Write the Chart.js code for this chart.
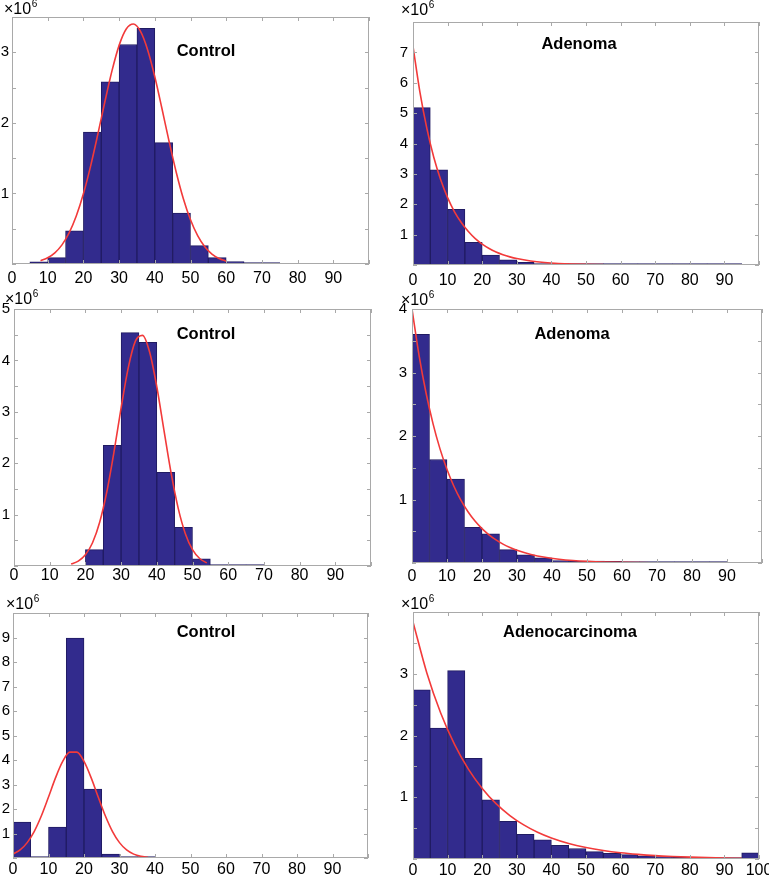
<!DOCTYPE html>
<html><head><meta charset="utf-8">
<script src="https://cdn.jsdelivr.net/npm/chart.js@4.4.1/dist/chart.umd.min.js"></script>
<style>
html,body{margin:0;padding:0;background:#fff;overflow:hidden;width:769px;height:875px;position:relative;}
canvas{position:absolute;}
</style></head><body>
<script>
// ---------- DATA (values in units of 10^6) ----------
const binEdges = [0,5,10,15,20,25,30,35,40,45,50,55,60,65,70,75,80,85,90,95,100];
const xTickLabels = [0,10,20,30,40,50,60,70,80,90];
const xTickLabelsLast = [0,10,20,30,40,50,60,70,80,90,100];
const scaleLabel = "×10";
const scaleExp = "6";

const p1Title = "Control";
const p1Counts = [null,0.03,0.09,0.47,1.87,2.58,3.11,3.34,1.72,0.72,0.26,0.09,0.035,0.015,0.01,null,null,null,null,null];
const p1FitX = [8,10,12,14,16,18,20,22,24,26,28,30,32,34,36,38,40,42,44,46,48,50,52,54,56,58,60];
const p1FitY = [0.046,0.088,0.158,0.271,0.44,0.679,0.995,1.384,1.829,2.295,2.736,3.098,3.33,3.40,3.295,3.033,2.653,2.203,1.737,1.301,0.925,0.626,0.401,0.244,0.141,0.078,0.040];
const p1YLabels = [1,2,3];

const p2Title = "Adenoma";
const p2Counts = [5.18,3.13,1.83,0.75,0.33,0.17,0.09,0.05,0.03,0.02,0.015,0.01,0.01,0.008,0.006,0.005,0.004,0.003,0.002,null];
const p2FitX = [0,2,4,6,8,10,12,14,16,18,20,22,24,26,28,30,34,38,42,46,50,55];
const p2FitY = [7.2,5.69,4.50,3.55,2.81,2.22,1.75,1.39,1.10,0.866,0.685,0.541,0.428,0.338,0.267,0.211,0.132,0.082,0.051,0.032,0.020,0.011];
const p2YLabels = [1,2,3,4,5,6,7];

const p3Title = "Control";
const p3Counts = [null,null,null,null,0.32,2.35,4.54,4.35,1.82,0.75,0.14,0.03,0.02,0.01,null,null,null,null,null,null];
const p3FitX = [16,18,20,22,24,26,28,30,32,34,36,38,40,42,44,46,48,50,52,54];
const p3FitY = [0.037,0.095,0.218,0.453,0.850,1.444,2.215,3.074,3.856,4.374,4.486,4.159,3.487,2.643,1.811,1.122,0.629,0.318,0.146,0.060];
const p3YLabels = [1,2,3,4,5];

const p4Title = "Adenoma";
const p4Counts = [3.6,1.63,1.32,0.56,0.46,0.21,0.13,0.08,0.04,0.03,0.03,0.025,0.02,0.01,0.01,0.01,0.008,0.005,null,null];
const p4FitX = [0,2,4,6,8,10,12,14,16,18,20,22,24,26,28,30,34,38,42,46,50,55,60,65,70];
const p4FitY = [4,3.275,2.681,2.195,1.797,1.472,1.205,0.986,0.808,0.661,0.541,0.443,0.363,0.297,0.243,0.199,0.134,0.0895,0.060,0.040,0.027,0.016,0.010,0.006,0.004];
const p4YLabels = [1,2,3,4];

const p5Title = "Control";
const p5Counts = [1.47,0.02,1.26,8.98,2.81,0.16,0.03,0.01,null,null,null,null,null,null,null,null,null,null,null,null];
const p5FitX = [0,2,4,6,8,10,12,14,16,18,20,22,24,26,28,30,32,34,36,38];
const p5FitY = [0.159,0.330,0.628,1.09,1.724,2.49,3.28,3.94,4.32,4.32,3.94,3.28,2.49,1.724,1.09,0.628,0.330,0.159,0.069,0.028];
const p5YLabels = [1,2,3,4,5,6,7,8,9];

const p6Title = "Adenocarcinoma";
const p6Counts = [2.74,2.12,3.05,1.63,0.96,0.61,0.40,0.31,0.22,0.17,0.12,0.09,0.07,0.05,0.04,0.03,0.02,0.015,0.01,0.10];
const p6FitX = [0,4,8,12,16,20,24,28,32,36,40,45,50,55,60,65,70,75,80,85,90,95];
const p6FitY = [3.84,3.013,2.365,1.856,1.456,1.143,0.897,0.704,0.552,0.433,0.340,0.251,0.186,0.137,0.101,0.075,0.055,0.041,0.030,0.022,0.016,0.012];
const p6YLabels = [1,2,3];

// ---------- LAYOUT / STYLE ----------
const FONT = "'Liberation Sans', Arial, Helvetica, sans-serif";
Chart.defaults.font.family = FONT;
const M = 40;
const panels = [
  {title:p1Title, counts:p1Counts, fx:p1FitX, fy:p1FitY, yLabels:p1YLabels, xLabels:xTickLabels, ymax:3.5, ystep:0.5, box:[12,17,369,264], xPad:5, yPad:3, titleDX:194, titleDY:34, expDX:-8, expDY:-3.5},
  {title:p2Title, counts:p2Counts, fx:p2FitX, fy:p2FitY, yLabels:p2YLabels, xLabels:xTickLabels, ymax:8, ystep:1, box:[413,22,759,265], xPad:6, yPad:5, titleDX:166, titleDY:22, expDX:-12, expDY:-7},
  {title:p3Title, counts:p3Counts, fx:p3FitX, fy:p3FitY, yLabels:p3YLabels, xLabels:xTickLabels, ymax:5, ystep:0.5, box:[14,309,371,566], xPad:0, yPad:4, titleDX:192, titleDY:25, expDX:-9, expDY:-5},
  {title:p4Title, counts:p4Counts, fx:p4FitX, fy:p4FitY, yLabels:p4YLabels, xLabels:xTickLabels, ymax:4, ystep:0.5, box:[412,309,762,563], xPad:4, yPad:5, titleDX:160, titleDY:25, expDX:-11, expDY:-4},
  {title:p5Title, counts:p5Counts, fx:p5FitX, fy:p5FitY, yLabels:p5YLabels, xLabels:xTickLabels, ymax:10, ystep:1, box:[13,613,368,858], xPad:2, yPad:3, titleDX:193, titleDY:19, expDX:-7, expDY:-4},
  {title:p6Title, counts:p6Counts, fx:p6FitX, fy:p6FitY, yLabels:p6YLabels, xLabels:xTickLabelsLast, ymax:4, ystep:0.5, box:[413,612,759,859], xPad:2, yPad:5, titleDX:157, titleDY:20, expDX:-12, expDY:-3}
];

const framePlugin = {
  id: 'frame',
  afterDatasetsDraw(chart) {
    const {ctx, chartArea: a, scales: {x, y}} = chart;
    const cfg = chart.options.plugins.frame;
    ctx.save();
    ctx.strokeStyle = '#a9a9a9';
    ctx.lineWidth = 1;
    ctx.beginPath();
    const tl = 4;
    x.ticks.forEach(t => {
      const px = Math.round(x.getPixelForValue(t.value)) + 0.5;
      ctx.moveTo(px, a.bottom); ctx.lineTo(px, a.bottom - tl);
      ctx.moveTo(px, a.top); ctx.lineTo(px, a.top + tl);
    });
    y.ticks.forEach(t => {
      const py = Math.round(y.getPixelForValue(t.value)) + 0.5;
      ctx.moveTo(a.left, py); ctx.lineTo(a.left + tl, py);
      ctx.moveTo(a.right, py); ctx.lineTo(a.right - tl, py);
    });
    ctx.stroke();
    ctx.strokeRect(Math.round(a.left) + 0.5, Math.round(a.top) + 0.5, Math.round(a.width) - 1, Math.round(a.height) - 1);
    // scale factor label
    ctx.fillStyle = '#000';
    ctx.textBaseline = 'alphabetic';
    ctx.textAlign = 'left';
    ctx.font = "16px " + FONT;
    const ex = a.left + cfg.expDX, ey = a.top + cfg.expDY;
    ctx.fillText(scaleLabel, ex, ey);
    const w = ctx.measureText(scaleLabel).width;
    ctx.font = "10px " + FONT;
    ctx.fillText(scaleExp, ex + w + 0.5, ey - 7);
    // panel title
    ctx.font = "bold 16.5px " + FONT;
    ctx.textAlign = 'center';
    ctx.textBaseline = 'middle';
    ctx.fillText(cfg.title, a.left + cfg.titleDX, a.top + cfg.titleDY);
    ctx.restore();
  }
};

panels.forEach(p => {
  const [l, t, r, b] = p.box;
  const w = r - l, h = b - t;
  const cv = document.createElement('canvas');
  cv.width = w + 2 * M; cv.height = h + 2 * M;
  cv.style.left = (l - M) + 'px'; cv.style.top = (t - M) + 'px';
  cv.style.width = (w + 2 * M) + 'px'; cv.style.height = (h + 2 * M) + 'px';
  document.body.appendChild(cv);

  const bars = [];
  p.counts.forEach((v, i) => { if (v !== null) bars.push({x: (binEdges[i] + binEdges[i + 1]) / 2, y: v}); });
  const fit = p.fx.map((xv, i) => ({x: xv, y: p.fy[i]}));

  new Chart(cv, {
    type: 'bar',
    data: {
      datasets: [
        {type: 'line', data: fit, borderColor: '#f23a3a', borderWidth: 1.6, pointRadius: 0,
         cubicInterpolationMode: 'monotone', fill: false, order: 0},
        {type: 'bar', data: bars, backgroundColor: '#322b8d', borderColor: '#201b62', borderWidth: 1,
         barPercentage: 1, categoryPercentage: 1, minBarLength: 1.5, order: 1}
      ]
    },
    options: {
      responsive: false, animation: false, devicePixelRatio: 1,
      layout: {padding: {left: 0, top: M, right: M, bottom: 0}},
      plugins: {legend: {display: false}, tooltip: {enabled: false},
        frame: {title: p.title, titleDX: p.titleDX, titleDY: p.titleDY, expDX: p.expDX, expDY: p.expDY}},
      scales: {
        x: {type: 'linear', min: 0, max: 100, offset: false,
            grid: {display: false, drawTicks: false}, border: {display: false},
            ticks: {stepSize: 10, autoSkip: false, maxRotation: 0, padding: p.xPad,
                    color: '#000', font: {size: 16},
                    callback: v => p.xLabels.includes(v) ? String(v) : ''},
            afterFit: s => { s.height = M; }},
        y: {min: 0, max: p.ymax,
            grid: {display: false, drawTicks: false}, border: {display: false},
            ticks: {stepSize: p.ystep, autoSkip: false, padding: p.yPad, color: '#000', font: {size: 15},
                    callback: v => p.yLabels.includes(v) ? String(v) : ''},
            afterFit: s => { s.width = M; }}
      }
    },
    plugins: [framePlugin]
  });
});
</script>
</body></html>
